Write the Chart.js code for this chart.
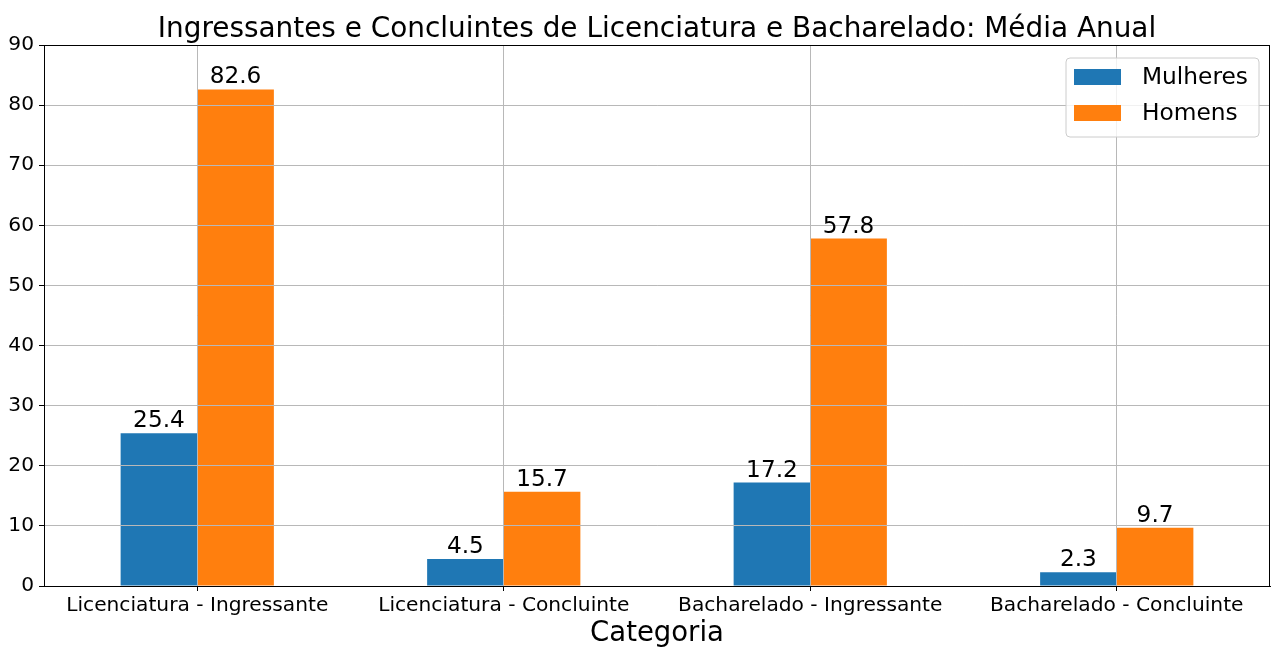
<!DOCTYPE html>
<html><head><meta charset="utf-8">
<script src="https://cdn.jsdelivr.net/npm/chart.js@4.4.0/dist/chart.umd.min.js"></script>
<style>html,body{margin:0;padding:0;background:#fff;}#wrap{width:1271px;height:649px;position:relative;}</style>
</head><body><div id="wrap"><canvas id="c" width="1271" height="649"></canvas></div>
<script>
const categories = ['Licenciatura - Ingressante', 'Licenciatura - Concluinte', 'Bacharelado - Ingressante', 'Bacharelado - Concluinte'];
const mulheres = [25.4, 4.5, 17.2, 2.3];
const homens = [82.6, 15.7, 57.8, 9.7];
const seriesLabels = ['Mulheres', 'Homens'];
const seriesColors = ['#1f77b4', '#ff7f0e'];
const yTicks = [0, 10, 20, 30, 40, 50, 60, 70, 80, 90];
const chartTitle = 'Ingressantes e Concluintes de Licenciatura e Bacharelado: Média Anual';
const xAxisTitle = 'Categoria';

const FONT = 'DejaVu Sans';

const overlayPlugin = {
  id: 'overlay',
  afterDatasetsDraw(chart) {
    const ctx = chart.ctx;
    const ca = chart.chartArea;
    // grid drawn above bars, as in the reference
    ctx.save();
    chart.scales.x.drawGrid(ca);
    chart.scales.y.drawGrid(ca);
    ctx.restore();
    // full frame (spines)
    ctx.save();
    ctx.strokeStyle = '#000';
    ctx.lineWidth = 1;
    ctx.strokeRect(Math.round(ca.left) + 0.5, Math.round(ca.top) + 0.5, Math.round(ca.right) - Math.round(ca.left) - 1, Math.round(ca.bottom) - Math.round(ca.top));
    ctx.restore();
    // value labels
    ctx.save();
    ctx.font = '23.2px "' + FONT + '"';
    ctx.fillStyle = '#000';
    ctx.textAlign = 'center';
    ctx.textBaseline = 'alphabetic';
    chart.data.datasets.forEach((ds, d) => {
      const meta = chart.getDatasetMeta(d);
      meta.data.forEach((bar, i) => {
        ctx.fillText(Number(ds.data[i]).toFixed(1), bar.x, bar.y - 6);
      });
    });
    ctx.restore();
  },
  afterDraw(chart) {
    const ctx = chart.ctx;
    const ca = chart.chartArea;
    // title
    ctx.save();
    ctx.font = '27.9px "' + FONT + '"';
    ctx.fillStyle = '#000';
    ctx.textAlign = 'center';
    ctx.textBaseline = 'alphabetic';
    ctx.fillText(chartTitle, (ca.left + ca.right) / 2, ca.top - 8.5);
    ctx.restore();
    // legend
    const fx = ca.right - 204, fy = ca.top + 13, fw = 193, fh = 79, r = 4;
    ctx.save();
    ctx.beginPath();
    ctx.moveTo(fx + r, fy);
    ctx.lineTo(fx + fw - r, fy);
    ctx.quadraticCurveTo(fx + fw, fy, fx + fw, fy + r);
    ctx.lineTo(fx + fw, fy + fh - r);
    ctx.quadraticCurveTo(fx + fw, fy + fh, fx + fw - r, fy + fh);
    ctx.lineTo(fx + r, fy + fh);
    ctx.quadraticCurveTo(fx, fy + fh, fx, fy + fh - r);
    ctx.lineTo(fx, fy + r);
    ctx.quadraticCurveTo(fx, fy, fx + r, fy);
    ctx.closePath();
    ctx.fillStyle = 'rgba(255,255,255,0.8)';
    ctx.fill();
    ctx.strokeStyle = '#cccccc';
    ctx.lineWidth = 1;
    ctx.stroke();
    ctx.font = '23.3px "' + FONT + '"';
    ctx.textAlign = 'left';
    ctx.textBaseline = 'middle';
    chart.data.datasets.forEach((ds, d) => {
      const cy = fy + 19 + d * 36;
      ctx.fillStyle = ds.backgroundColor;
      ctx.fillRect(fx + 8, cy - 8, 47, 16);
      ctx.fillStyle = '#000';
      ctx.fillText(ds.label, fx + 76, cy + 1);
    });
    ctx.restore();
  }
};

new Chart(document.getElementById('c'), {
  type: 'bar',
  data: {
    labels: categories,
    datasets: [
      { label: seriesLabels[0], data: mulheres, backgroundColor: seriesColors[0], borderWidth: 0 },
      { label: seriesLabels[1], data: homens, backgroundColor: seriesColors[1], borderWidth: 0 }
    ]
  },
  options: {
    responsive: false,
    animation: false,
    devicePixelRatio: 1,
    categoryPercentage: 0.5,
    barPercentage: 1.0,
    layout: { padding: { top: 45, right: 1, left: 0, bottom: 0 } },
    plugins: {
      legend: { display: false },
      title: { display: false },
      tooltip: { enabled: false }
    },
    scales: {
      x: {
        offset: true,
        grid: { offset: false, color: '#b8b8b8', lineWidth: 1, tickColor: '#000', tickLength: 5, drawOnChartArea: true },
        border: { color: '#000', width: 1 },
        ticks: { font: { family: FONT, size: 20.2 }, color: '#000', padding: 3, maxRotation: 0, autoSkip: false },
        title: { display: true, text: xAxisTitle, font: { family: FONT, size: 27.5, lineHeight: 1.0 }, color: '#000', padding: { top: 0, bottom: 1 } },
        afterFit(s) { s.height = 63; }
      },
      y: {
        min: 0, max: 90,
        afterBuildTicks(s) { s.ticks = yTicks.map(v => ({ value: v })); },
        grid: { color: '#b8b8b8', lineWidth: 1, tickColor: '#000', tickLength: 5 },
        border: { color: '#000', width: 1 },
        ticks: { font: { family: FONT, size: 20.2 }, color: '#000', padding: 5 },
        afterFit(s) { s.width = 44; }
      }
    }
  },
  plugins: [overlayPlugin]
});
</script>
</body></html>
